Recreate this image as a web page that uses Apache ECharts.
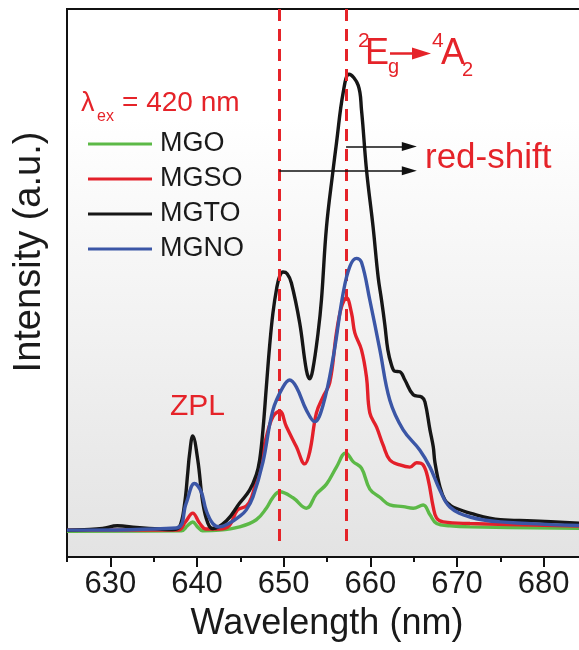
<!DOCTYPE html>
<html>
<head>
<meta charset="utf-8">
<title>Emission spectra</title>
<script src="https://cdn.jsdelivr.net/npm/echarts@6/dist/echarts.min.js"></script>
<style>
  html, body { margin: 0; padding: 0; background: #ffffff; }
  #chart { width: 579px; height: 650px; }
</style>
</head>
<body>
<div id="chart"></div>
<script>
// Emission spectra under 420 nm excitation: [wavelength (nm), intensity (a.u.)]
const seriesNames = ['MGO', 'MGSO', 'MGTO', 'MGNO'];
const seriesColors = ['#5cb947', '#e3202a', '#161616', '#3b56a6'];

const mgo = [
  [625, 4.7], [638.2, 4.8], [638.9, 5.7], [639.51, 6.4], [640.06, 5.5], [640.64, 4.8],
  [642.6, 4.9], [644.91, 5.5], [646.84, 6.8], [648.0, 8.9], [648.73, 10.8], [649.54, 11.9],
  [651.08, 10.8], [652.62, 8.9], [653.78, 11.5], [654.94, 13.3], [656.09, 16.4], [657.17, 19.0],
  [658.01, 17.4], [658.98, 16.2], [659.94, 12.4], [661.1, 10.9], [662.25, 9.5], [663.79, 9.2],
  [664.95, 8.9], [666.1, 9.5], [666.88, 7.7], [667.65, 6.1], [669.19, 5.7], [671.5, 5.5], [685, 5.2]
];

const mgso = [
  [625, 4.9], [637.8, 4.9], [638.67, 6.4], [639.51, 8.0], [640.29, 6.2], [641.06, 5.1],
  [642.6, 5.1], [643.76, 5.8], [644.68, 8.6], [645.69, 9.3], [646.3, 10.9], [646.84, 14.1],
  [648.0, 21.9], [648.76, 25.6], [649.54, 26.6], [650.31, 23.8], [651.47, 20.1], [652.43, 17.0],
  [653.01, 19.2], [653.78, 26.3], [654.54, 29.2], [655.32, 31.8], [656.09, 40.9], [656.67, 45.6],
  [657.25, 47.3], [657.83, 44.5], [658.21, 40.9], [658.98, 37.8], [659.56, 32.8], [659.94, 26.3],
  [660.72, 23.7], [661.48, 20.4], [662.25, 17.7], [663.41, 16.8], [664.57, 16.4], [665.34, 17.2],
  [666.1, 16.8], [666.68, 14.1], [667.26, 9.1], [667.65, 7.1], [668.42, 6.4], [671.5, 6.1], [685, 5.6]
];

const mgto = [
  [625, 4.9], [627, 5.0], [629.1, 5.2], [630.8, 5.7], [633.0, 5.4], [635.7, 5.1], [637.2, 5.0],
  [637.98, 5.5], [638.55, 9.5], [638.94, 15.5], [639.13, 18.6], [639.51, 22.1], [640.09, 17.7],
  [640.67, 9.9], [641.25, 6.2], [641.83, 5.2], [643.4, 6.6], [644.9, 9.8], [646.07, 12.2],
  [646.84, 15.0], [647.23, 17.7], [647.61, 23.2], [648.0, 31.0], [648.38, 38.5], [648.76, 44.5],
  [649.19, 49.0], [649.55, 51.3], [649.92, 52.0], [650.4, 51.7], [650.89, 50.0], [651.85, 42.7],
  [652.62, 34.1], [653.01, 32.5], [653.35, 34.1], [653.97, 40.9], [654.36, 46.9], [654.94, 60.2],
  [655.7, 70.6], [656.09, 75.5], [656.86, 84.7], [657.55, 88.1], [658.59, 86.1], [658.98, 81.6],
  [659.56, 70.6], [660.32, 60.2], [660.9, 51.1], [661.29, 46.9], [661.68, 42.3], [662.02, 37.8],
  [662.45, 35.0], [662.83, 33.9], [663.41, 33.8], [663.99, 32.3], [664.95, 29.6], [665.92, 29.2],
  [666.3, 28.3], [666.88, 23.2], [667.26, 20.1], [667.46, 17.2], [668.03, 12.8], [668.61, 10.4],
  [669.19, 9.5], [669.54, 9.1], [671.5, 8.0], [675.0, 6.8], [678.8, 6.6], [685, 6.1]
];

const mgno = [
  [625, 4.9], [637.6, 5.3], [638.75, 9.8], [639.71, 13.4], [640.48, 11.9], [641.06, 8.5],
  [641.83, 6.1], [642.6, 5.5], [643.76, 6.2], [644.91, 7.4], [645.69, 8.6], [646.45, 10.9],
  [647.61, 17.3], [648.76, 26.8], [649.92, 31.0], [650.69, 32.3], [651.47, 31.0], [652.62, 26.8],
  [653.58, 24.7], [654.54, 27.7], [655.7, 36.3], [656.86, 48.1], [657.63, 53.0], [658.4, 54.5],
  [658.98, 53.8], [659.94, 46.9], [661.1, 37.8], [662.25, 28.6], [663.79, 23.2], [665.72, 19.5],
  [666.88, 16.4], [668.03, 12.2], [669.19, 9.1], [671.5, 7.3], [675.0, 6.4], [685, 5.7]
];

const curves = [mgo, mgso, mgto, mgno];

// Axis ticks (nm)
const majorTicks = [630, 640, 650, 660, 670, 680];
const minorTicks = [625, 635, 645, 655, 665, 675, 685];

// Reference wavelengths of the two emission peaks (dashed guides)
const guideLines = [649.5, 657.2];
// Red-shift arrows: start wavelength, end wavelength, intensity level
const shiftArrows = [
  [657.2, 664.5, 74.9],
  [649.5, 664.5, 70.5]
];

const RED = '#e52329';
const INK = '#1a1a1a';
const FONT = 'Liberation Sans, Arial, Helvetica, sans-serif';

const chart = echarts.init(document.getElementById('chart'), null, { renderer: 'canvas' });

const lineSeries = seriesNames.map((name, i) => ({
  name: name,
  type: 'line',
  data: curves[i],
  showSymbol: false,
  smooth: 0.4,
  lineStyle: { width: 3.4, color: seriesColors[i] },
  itemStyle: { color: seriesColors[i] },
  emphasis: { disabled: true },
  silent: true,
  z: 2 + i
}));

function txt(text, x, y, size, color) {
  return {
    type: 'text',
    x: x,
    y: y,
    z: 100,
    silent: true,
    style: {
      text: text,
      fill: color,
      fontSize: size,
      fontFamily: FONT,
      align: 'left',
      verticalAlign: 'middle'
    }
  };
}

const option = {
  animation: false,
  backgroundColor: '#ffffff',
  textStyle: { fontFamily: FONT },
  grid: {
    left: 67,
    top: 9,
    right: -8,
    bottom: 93,
    show: true,
    borderColor: '#111111',
    borderWidth: 2,
    outerBoundsMode: 'none',
    containLabel: false,
    backgroundColor: new echarts.graphic.LinearGradient(0, 0, 0, 1, [
      { offset: 0, color: '#ffffff' },
      { offset: 0.2, color: '#ffffff' },
      { offset: 1, color: '#e3e3e3' }
    ])
  },
  legend: {
    data: seriesNames,
    orient: 'vertical',
    left: 88,
    top: 126.5,
    padding: 0,
    itemGap: 0,
    itemWidth: 64,
    itemHeight: 3,
    icon: 'rect',
    selectedMode: false,
    textStyle: { fontSize: 27, color: INK, lineHeight: 35, padding: [0, 0, 0, 3], fontFamily: FONT }
  },
  xAxis: [
    {
      type: 'value',
      position: 'bottom',
      min: 625,
      max: 685,
      name: 'Wavelength (nm)',
      nameLocation: 'middle',
      nameGap: 49,
      nameTextStyle: { fontSize: 36, color: INK, fontFamily: FONT },
      axisLine: { show: true, onZero: false, lineStyle: { color: '#111111', width: 2 } },
      axisTick: { show: true, inside: false, length: 10, lineStyle: { color: '#111111', width: 2 }, customValues: majorTicks },
      axisLabel: { show: true, margin: 12, fontSize: 31, color: INK, fontFamily: FONT, customValues: majorTicks },
      splitLine: { show: false }
    },
    {
      type: 'value',
      position: 'bottom',
      min: 625,
      max: 685,
      axisLine: { show: false, onZero: false },
      axisTick: { show: true, inside: false, length: 5, lineStyle: { color: '#111111', width: 2 }, customValues: minorTicks },
      axisLabel: { show: false },
      splitLine: { show: false }
    }
  ],
  yAxis: {
    type: 'value',
    min: 0,
    max: 100,
    name: 'Intensity (a.u.)',
    nameLocation: 'middle',
    nameGap: 18,
    nameTextStyle: { fontSize: 38, color: INK, fontFamily: FONT, padding: [0, 0, 0, 62] },
    axisLine: { show: false },
    axisTick: { show: false },
    axisLabel: { show: false },
    splitLine: { show: false }
  },
  series: lineSeries.concat([
    {
      name: 'guides',
      type: 'line',
      data: [],
      silent: true,
      z: 10,
      markLine: {
        silent: true,
        animation: false,
        symbol: 'none',
        label: { show: false },
        emphasis: { disabled: true },
        lineStyle: { color: RED, width: 3, type: [12, 8] },
        data: guideLines.map(w => [{ coord: [w, 100] }, { coord: [w, 2.5] }])
      }
    },
    {
      name: 'shift',
      type: 'line',
      data: [],
      silent: true,
      z: 11,
      markLine: {
        silent: true,
        animation: false,
        symbol: ['none', 'triangle'],
        symbolSize: [9, 15],
        label: { show: false },
        emphasis: { disabled: true },
        lineStyle: { color: '#111111', width: 1.5, type: 'solid' },
        data: shiftArrows.map(a => [{ coord: [a[0], a[2]] }, { coord: [a[1], a[2]] }])
      }
    }
  ]),
  graphic: [
    // excitation wavelength
    txt('λ', 81, 103.5, 27, RED),
    txt('ex', 97, 117, 16, RED),
    txt('= 420 nm', 122, 103.5, 28, RED),
    // zero-phonon line
    txt('ZPL', 170, 406.7, 30, RED),
    // 2Eg -> 4A2 transition
    txt('2', 358, 41.5, 21, RED),
    txt('E', 365, 53.8, 36, RED),
    txt('g', 388, 67.4, 20, RED),
    {
      type: 'line', z: 100, silent: true,
      shape: { x1: 390, y1: 53.5, x2: 416, y2: 53.5 },
      style: { stroke: RED, lineWidth: 2.5 }
    },
    {
      type: 'polygon', z: 100, silent: true,
      shape: { points: [[412, 47.5], [431, 53.5], [412, 59.5]] },
      style: { fill: RED }
    },
    txt('4', 432, 41.5, 21, RED),
    txt('A', 441, 53.8, 36, RED),
    txt('2', 462, 70.8, 20, RED),
    // red-shift label
    txt('red-shift', 425, 158, 35, RED)
  ]
};

chart.setOption(option);
</script>
</body>
</html>
